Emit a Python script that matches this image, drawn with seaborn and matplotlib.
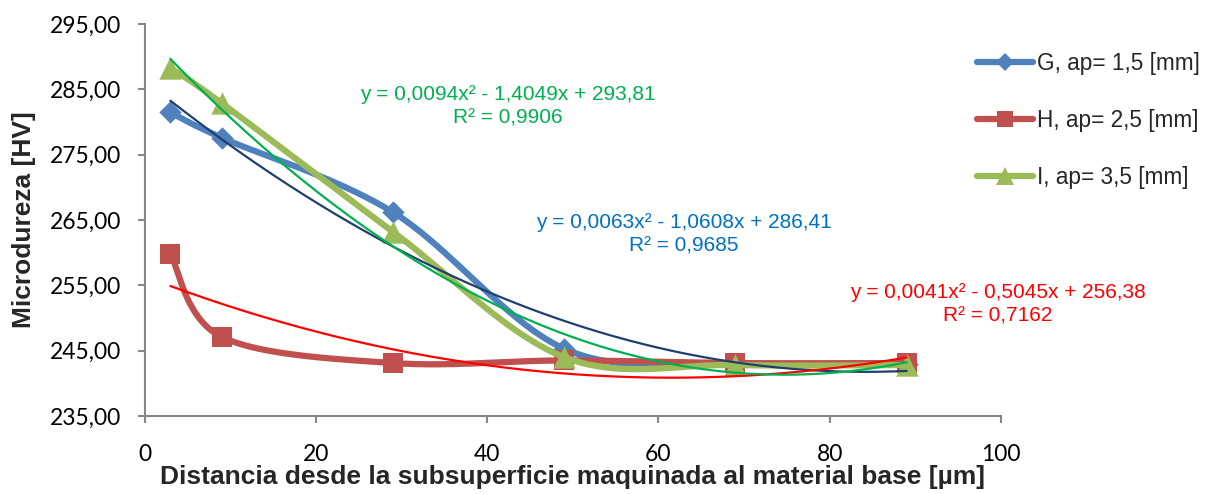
import numpy as np
import pandas as pd
import matplotlib
matplotlib.use("Agg")
import matplotlib.pyplot as plt
from matplotlib.lines import Line2D
from matplotlib.ticker import FuncFormatter
import seaborn as sns

# ---- data ----
distance = [3, 9, 29, 49, 69, 89]
G_values = [281.5, 277.6, 266.2, 245.3, 243.0, 243.0]
H_values = [259.8, 247.1, 243.1, 243.5, 243.1, 243.1]
I_values = [288.3, 282.9, 263.2, 244.0, 242.8, 242.8]
series_names = ["G, ap= 1,5 [mm]", "H, ap= 2,5 [mm]", "I, ap= 3,5 [mm]"]

# trendline coefficients (a, b, c) for y = a x^2 + b x + c
G_trend = [0.0063, -1.0608, 286.41]
H_trend = [0.0041, -0.5045, 256.38]
I_trend = [0.0094, -1.4049, 293.81]
G_eq = ["y = 0,0063x² - 1,0608x + 286,41", "R² = 0,9685"]
H_eq = ["y = 0,0041x² - 0,5045x + 256,38", "R² = 0,7162"]
I_eq = ["y = 0,0094x² - 1,4049x + 293,81", "R² = 0,9906"]

x_ticks = [0, 20, 40, 60, 80, 100]
y_ticks = [235, 245, 255, 265, 275, 285, 295]

sns.set_style("white")
plt.rcParams['font.family'] = ['Liberation Sans', 'DejaVu Sans']

fig = plt.figure(figsize=(12.11, 4.94), dpi=100)
ax = fig.add_axes([0.1195, 0.158, 0.707, 0.793])
ax.set_xlim(0, 100)
ax.set_ylim(235, 295)

SX, SY = 8.56, 6.53  # approx pixels per unit, for screen-space smoothing


def smooth(xs, ys, n=40):
    P = np.column_stack([np.array(xs) * SX, np.array(ys) * SY])
    m = len(P)
    out = []
    for i in range(m - 1):
        p0 = P[i - 1] if i > 0 else P[i]
        p1 = P[i]
        p2 = P[i + 1]
        p3 = P[i + 2] if i + 2 < m else P[i + 1]
        c1 = p1 + (p2 - p0) / 6
        c2 = p2 - (p3 - p1) / 6
        t = np.linspace(0, 1, n)[:, None]
        seg = ((1 - t) ** 3) * p1 + 3 * ((1 - t) ** 2) * t * c1 + 3 * (1 - t) * t ** 2 * c2 + t ** 3 * p2
        out.append(seg if i == 0 else seg[1:])
    arr = np.vstack(out)
    return arr[:, 0] / SX, arr[:, 1] / SY


colors = ["#4F81BD", "#C0504D", "#9BBB59"]
markers = ["D", "s", "^"]
msizes = [130, 200, 260]
trend_colors = ["#1F3F6E", "#FF0000", "#00B050"]

all_vals = [G_values, H_values, I_values]
trends = [G_trend, H_trend, I_trend]

for k, vals in enumerate(all_vals):
    sx, sy = smooth(distance, vals)
    df = pd.DataFrame({"x": sx, "y": sy})
    sns.lineplot(data=df, x="x", y="y", sort=False, color=colors[k], lw=4.5,
                 ax=ax, zorder=2 + k, solid_capstyle="round")
    dfp = pd.DataFrame({"x": distance, "y": vals})
    sns.scatterplot(data=dfp, x="x", y="y", marker=markers[k], s=msizes[k],
                    color=colors[k], edgecolor=colors[k], linewidth=0, ax=ax, zorder=2.5 + k)

for k, tr in enumerate(trends):
    tx = np.linspace(distance[0], distance[-1], 200)
    ty = np.polyval(tr, tx)
    sns.lineplot(x=tx, y=ty, color=trend_colors[k], lw=1.6, ax=ax, zorder=6)

# equations
eq_fs = 15
for (cx, y1, y2, eq, col) in [(508, 95, 118, I_eq, "#00B050"),
                              (684, 222, 246, G_eq, "#0070C0"),
                              (998, 293, 316, H_eq, "#FF0000")]:
    fig.text(cx / 1211, 1 - y1 / 494, eq[0], ha="center", va="center", color=col, fontsize=eq_fs)
    fig.text(cx / 1211, 1 - y2 / 494, eq[1], ha="center", va="center", color=col, fontsize=eq_fs)

# axes styling
ax.set_xticks(x_ticks)
ax.set_yticks(y_ticks)
ax.yaxis.set_major_formatter(FuncFormatter(lambda v, p: f"{v:.2f}".replace(".", ",")))
ax.xaxis.set_major_formatter(FuncFormatter(lambda v, p: f"{v:.0f}"))
for s in ["top", "right"]:
    ax.spines[s].set_visible(False)
for s in ["left", "bottom"]:
    ax.spines[s].set_color("#878787")
    ax.spines[s].set_linewidth(1.5)
ax.tick_params(axis="both", which="major", direction="out", length=5, width=1.5,
               color="#878787", labelsize=16.5, labelcolor="#000000")
ax.tick_params(axis="x", pad=15)
ax.tick_params(axis="y", pad=12)
ax.tick_params(left=True, bottom=True)
for lab in ax.get_xticklabels() + ax.get_yticklabels():
    lab.set_family(["Lato", "DejaVu Sans"])
ax.set_xlabel("Distancia desde la subsuperficie maquinada al material base [µm]",
              fontsize=19, fontweight="bold", labelpad=0)
ax.set_ylabel("Microdureza [HV]", fontsize=19, fontweight="bold", labelpad=10)

handles = [Line2D([0], [0], color=colors[k], lw=4.5, marker=markers[k],
                  markersize=[9, 12, 13][k], markeredgewidth=0, solid_capstyle="round")
           for k in range(3)]
fig.legend(handles, series_names, loc="upper left", bbox_to_anchor=(977 / 1211, 0.895),
           frameon=False, fontsize=16.3, handlelength=2.48, handletextpad=0.18,
           labelspacing=1.5, borderpad=0, borderaxespad=0)

fig.savefig("out.png", dpi=100)
